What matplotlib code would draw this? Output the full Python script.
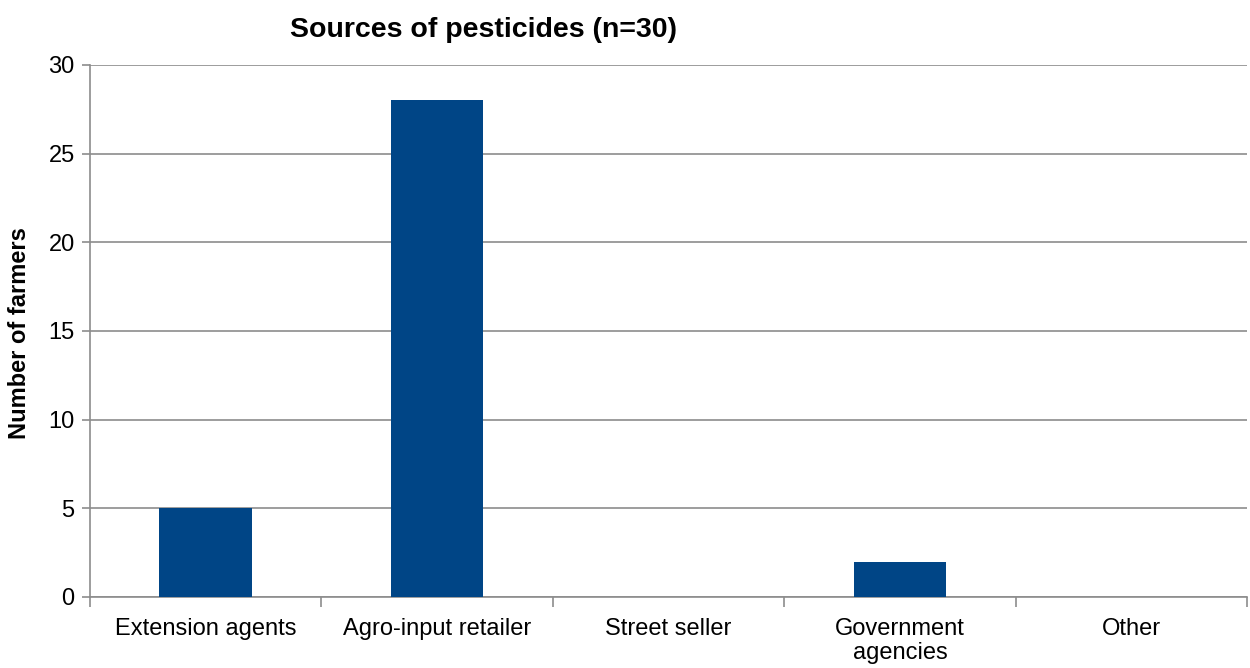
import matplotlib
matplotlib.use("Agg")
import matplotlib.pyplot as plt
import numpy as np

plt.rcParams['font.family'] = ['Liberation Sans', 'DejaVu Sans']

categories = ["Extension agents", "Agro-input retailer", "Street seller",
              "Government\nagencies", "Other"]
farmers = [5, 28, 0, 2, 0]
yticks = [0, 5, 10, 15, 20, 25, 30]

bar_color = "#004586"
grid_color = "#8c8c8c"

fig = plt.figure(figsize=(12.5, 6.68), dpi=100)
ax = fig.add_axes([0.072, 0.1063, 0.9256, 0.7964])

x = np.arange(len(categories))
ax.bar(x, farmers, width=0.4, color=bar_color, zorder=3)

ax.set_xlim(-0.5, len(categories) - 0.5)
ax.set_ylim(0, 30)
ax.set_yticks(yticks)
ax.yaxis.grid(True, color=grid_color, linewidth=1.2, zorder=0)

ax.set_xticks(x)
ax.set_xticklabels(categories, fontsize=17, linespacing=1.15)
ax.set_xticks(np.arange(len(categories) + 1) - 0.5, minor=True)
ax.tick_params(axis='x', which='major', length=0, pad=15)
ax.tick_params(axis='x', which='minor', length=7, color=grid_color, width=1.2)
ax.tick_params(axis='y', length=6, color=grid_color, width=1.2, labelsize=17, pad=5)

for side in ['top', 'right']:
    ax.spines[side].set_visible(False)
for side in ['left', 'bottom']:
    ax.spines[side].set_color(grid_color)
    ax.spines[side].set_linewidth(1.2)

ax.set_ylabel("Number of farmers", fontsize=17, fontweight='bold')
ax.yaxis.set_label_coords(31 / 1250, 1 - 333 / 668, transform=fig.transFigure)
fig.text(483 / 1250, 1 - 30 / 668, "Sources of pesticides (n=30)",
         ha='center', va='center', fontsize=20.5, fontweight='bold')

fig.savefig("out.png", dpi=100)
